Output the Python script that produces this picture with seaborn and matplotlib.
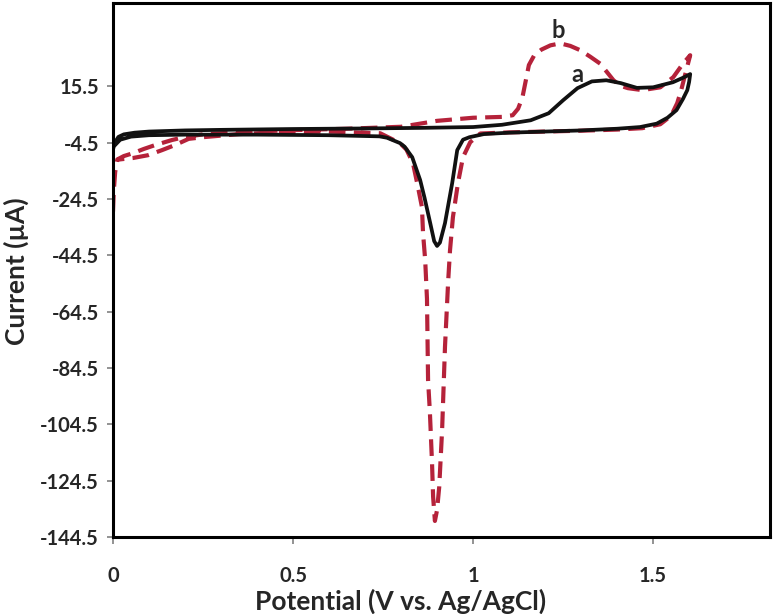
import pandas as pd
import seaborn as sns
import matplotlib.pyplot as plt

# curve a (solid black): forward sweep then reverse sweep
a_potential = [0.0, 0.005, 0.015, 0.03, 0.06, 0.1, 0.2, 0.3, 0.5, 0.7, 0.85, 1.0,
               1.08, 1.16, 1.21, 1.25, 1.29, 1.33, 1.37, 1.41, 1.455, 1.5, 1.555,
               1.585, 1.603,
               1.6, 1.595, 1.583, 1.565, 1.54, 1.51, 1.464, 1.4, 1.3, 1.2, 1.1,
               1.03, 0.99, 0.972, 0.956, 0.942, 0.922, 0.908, 0.9, 0.892, 0.881,
               0.865, 0.853, 0.831, 0.81, 0.797, 0.761, 0.74, 0.6, 0.4, 0.2, 0.1,
               0.05, 0.02, 0.005]
a_current = [-7.0, -4.5, -2.5, -1.6, -1.0, -0.6, -0.2, 0.0, 0.3, 0.5, 0.7, 1.0,
             1.8, 3.4, 5.9, 10.5, 14.8, 17.2, 17.6, 16.6, 14.9, 15.1, 16.9,
             18.6, 19.8,
             17.0, 14.1, 11.0, 7.0, 4.3, 2.2, 1.0, 0.4, -0.2, -0.6, -1.0,
             -1.5, -2.6, -3.5, -7.2, -18.9, -33.1, -40.0, -41.2, -39.5, -33.1,
             -24.0, -17.8, -9.7, -6.0, -4.7, -2.8, -2.3, -1.9, -1.7, -1.7, -1.9,
             -2.4, -3.5, -5.5]

# curve b (dashed red): forward sweep then reverse sweep
b_potential = [0.0, 0.002, 0.006, 0.012, 0.03, 0.055, 0.085, 0.117, 0.164, 0.2,
               0.25, 0.35, 0.5, 0.65, 0.8, 0.9, 1.0, 1.08, 1.11, 1.125, 1.137,
               1.145, 1.155, 1.17, 1.19, 1.215, 1.242, 1.27, 1.297, 1.325, 1.353,
               1.375, 1.39, 1.41, 1.43, 1.47, 1.52, 1.556, 1.583, 1.603,
               1.59, 1.578, 1.567, 1.55, 1.52, 1.47, 1.4, 1.3, 1.2, 1.1, 1.02,
               0.992, 0.972, 0.958, 0.944, 0.936, 0.931, 0.922, 0.914, 0.906,
               0.9, 0.894, 0.889, 0.886, 0.88, 0.875, 0.872, 0.867, 0.861, 0.858,
               0.847, 0.833, 0.815, 0.797, 0.742, 0.6, 0.45, 0.35, 0.25, 0.21,
               0.172, 0.136, 0.097, 0.055, 0.025, 0.012]
b_current = [-29.0, -22.0, -15.0, -10.5, -9.3, -8.3, -6.8, -5.4, -3.6, -2.5,
             -1.6, -0.8, -0.1, 0.4, 1.1, 3.2, 4.3, 4.6, 5.2, 7.5, 11.5,
             16.6, 23.0, 26.5, 28.5, 30.0, 30.7, 29.8, 28.3, 26.0, 23.5,
             20.0, 17.6, 15.6, 14.8, 14.1, 15.1, 18.7, 23.5, 26.5,
             20.1, 14.1, 9.5, 5.0, 2.0, 0.6, 0.1, -0.3, -0.6, -0.9, -1.3,
             -4.4, -9.7, -18.9, -31.0, -42.7, -53.3, -77.0, -106.5, -126.7,
             -134.9, -138.8, -130.2, -118.2, -100.0, -88.8, -60.0, -46.2, -36.6, -27.4,
             -20.3, -11.8, -7.0, -4.7, -1.2, -0.6, -0.9, -1.5, -2.6, -3.2,
             -5.4, -7.2, -9.0, -10.0, -10.4, -10.6]

y_ticks = [15.5, -4.5, -24.5, -44.5, -64.5, -84.5, -104.5, -124.5, -144.5]
x_ticks = [0, 0.5, 1, 1.5]
x_tick_labels = ["0", "0.5", "1", "1.5"]

df_a = pd.DataFrame({"potential": a_potential, "current": a_current})
df_b = pd.DataFrame({"potential": b_potential, "current": b_current})

sns.set_style("ticks")
plt.rcParams["font.family"] = ["Lato", "DejaVu Sans"]

fig, ax = plt.subplots(figsize=(7.74, 6.14), dpi=100)
fig.subplots_adjust(left=0.146, right=0.995, top=0.995, bottom=0.1254)

sns.lineplot(data=df_b, x="potential", y="current", sort=False, estimator=None,
             color="#b5223a", lw=3.0, linestyle=(0, (4, 2)), ax=ax)
sns.lineplot(data=df_a, x="potential", y="current", sort=False, estimator=None,
             color="#111111", lw=2.7, ax=ax)

ax.text(1.236, 35.4, "b", fontsize=17, fontweight="bold", ha="center", va="center")
ax.text(1.289, 19.8, "a", fontsize=17, fontweight="bold", ha="center", va="center")

ax.set_xlim(0, 1.825)
ax.set_ylim(-144.5, 45)
ax.set_yticks(y_ticks)
ax.set_yticklabels([f"{v:g}" for v in y_ticks])
ax.set_xticks(x_ticks)
ax.set_xticklabels(x_tick_labels)

for side in ["left", "right", "top", "bottom"]:
    ax.spines[side].set_visible(True)
    ax.spines[side].set_linewidth(2.2)
    ax.spines[side].set_color("black")

ax.tick_params(axis="y", direction="out", length=4, width=1.2, color="#808080",
               pad=6, labelsize=14.5)
ax.tick_params(axis="x", direction="out", length=5, width=1.2, color="#808080",
               pad=16, labelsize=14.5)
for lab in ax.get_xticklabels() + ax.get_yticklabels():
    lab.set_fontweight("bold")

ax.set_xlabel("Potential (V vs. Ag/AgCl)", fontsize=19, fontweight="bold")
ax.set_ylabel("Current (µA)", fontsize=19, fontweight="bold")
ax.xaxis.set_label_coords(0.437, -0.097)
ax.yaxis.set_label_coords(-0.128, 0.498)

plt.savefig("out.png", dpi=100)
plt.close()
